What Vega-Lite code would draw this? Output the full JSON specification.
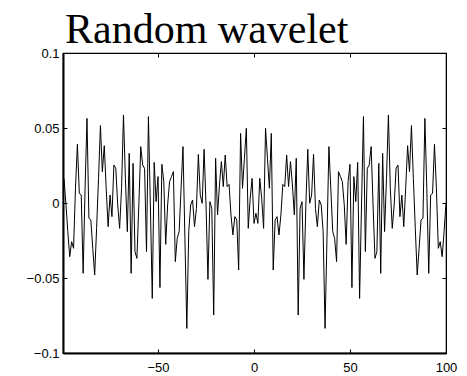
{
  "$schema": "https://vega.github.io/schema/vega-lite/v6.json",
  "width": 383,
  "height": 300,
  "autosize": "none",
  "padding": {"left": 63, "top": 53, "right": 21, "bottom": 23},
  "background": "white",
  "title": {"text": "Random wavelet", "font": "Liberation Serif", "fontSize": 42, "fontWeight": "normal", "color": "black", "anchor": "start", "frame": "group", "baseline": "bottom", "offset": 6, "dx": 2, "dy": 53},
  "data": {"values": [
    {"x": -99, "y": 0.0164}, {"x": -98, "y": -0.0002}, {"x": -97, "y": -0.0191}, {"x": -96, "y": -0.0358}, {"x": -95, "y": -0.0258},
    {"x": -94, "y": -0.0302}, {"x": -93, "y": 0.0098}, {"x": -92, "y": 0.0391}, {"x": -91, "y": 0.0064}, {"x": -90, "y": 0.0053},
    {"x": -89, "y": -0.0469}, {"x": -88, "y": 0.0098}, {"x": -87, "y": 0.0564}, {"x": -86, "y": -0.0102}, {"x": -85, "y": -0.0113},
    {"x": -84, "y": -0.0302}, {"x": -83, "y": -0.0480}, {"x": -82, "y": -0.0169}, {"x": -81, "y": 0.0164}, {"x": -80, "y": 0.0516},
    {"x": -79, "y": 0.0209}, {"x": -78, "y": 0.0382}, {"x": -77, "y": 0.0098}, {"x": -76, "y": -0.0158}, {"x": -75, "y": 0.0053},
    {"x": -74, "y": -0.0091}, {"x": -73, "y": 0.0253}, {"x": -72, "y": 0.0231}, {"x": -71, "y": -0.0013}, {"x": -70, "y": -0.0169},
    {"x": -69, "y": 0.0098}, {"x": -68, "y": 0.0587}, {"x": -67, "y": 0.0164}, {"x": -66, "y": -0.0191}, {"x": -65, "y": 0.0331},
    {"x": -64, "y": -0.0469}, {"x": -63, "y": 0.0264}, {"x": -62, "y": -0.0324}, {"x": -61, "y": -0.0369}, {"x": -60, "y": -0.0013},
    {"x": -59, "y": 0.0376}, {"x": -58, "y": 0.0253}, {"x": -57, "y": 0.0231}, {"x": -56, "y": -0.0324}, {"x": -55, "y": 0.0576},
    {"x": -54, "y": -0.0013}, {"x": -53, "y": -0.0636}, {"x": -52, "y": 0.0271}, {"x": -51, "y": 0.0009}, {"x": -50, "y": 0.0176},
    {"x": -49, "y": -0.0564}, {"x": -48, "y": 0.0258}, {"x": -47, "y": 0.0142}, {"x": -46, "y": -0.0276}, {"x": -45, "y": -0.0013},
    {"x": -44, "y": 0.0142}, {"x": -43, "y": 0.0176}, {"x": -42, "y": 0.0209}, {"x": -41, "y": -0.0391}, {"x": -40, "y": -0.0236},
    {"x": -39, "y": -0.0191}, {"x": -38, "y": 0.0098}, {"x": -37, "y": 0.0376}, {"x": -36, "y": -0.0236}, {"x": -35, "y": -0.0836},
    {"x": -34, "y": -0.0191}, {"x": -33, "y": -0.0013}, {"x": -32, "y": 0.0020}, {"x": -31, "y": -0.0158}, {"x": -30, "y": -0.0036},
    {"x": -29, "y": 0.0324}, {"x": -28, "y": 0.0053}, {"x": -27, "y": -0.0002}, {"x": -26, "y": 0.0358}, {"x": -25, "y": -0.0013},
    {"x": -24, "y": -0.0509}, {"x": -23, "y": 0.0009}, {"x": -22, "y": -0.0036}, {"x": -21, "y": -0.0747}, {"x": -20, "y": 0.0298},
    {"x": -19, "y": -0.0080}, {"x": -18, "y": 0.0120}, {"x": -17, "y": 0.0276}, {"x": -16, "y": 0.0109}, {"x": -15, "y": 0.0320},
    {"x": -14, "y": 0.0109}, {"x": -13, "y": 0.0124}, {"x": -12, "y": -0.0080}, {"x": -11, "y": -0.0213}, {"x": -10, "y": -0.0091},
    {"x": -9, "y": -0.0113}, {"x": -8, "y": -0.0447}, {"x": -7, "y": 0.0464}, {"x": -6, "y": 0.0098}, {"x": -5, "y": 0.0298},
    {"x": -4, "y": 0.0498}, {"x": -3, "y": -0.0169}, {"x": -2, "y": 0.0031}, {"x": -1, "y": 0.0164}, {"x": 0, "y": -0.0136},
    {"x": 1, "y": -0.0069}, {"x": 2, "y": -0.0136}, {"x": 3, "y": 0.0164}, {"x": 4, "y": 0.0031}, {"x": 5, "y": -0.0169},
    {"x": 6, "y": 0.0498}, {"x": 7, "y": 0.0298}, {"x": 8, "y": 0.0098}, {"x": 9, "y": 0.0464}, {"x": 10, "y": -0.0447},
    {"x": 11, "y": -0.0113}, {"x": 12, "y": -0.0091}, {"x": 13, "y": -0.0213}, {"x": 14, "y": -0.0080}, {"x": 15, "y": 0.0124},
    {"x": 16, "y": 0.0109}, {"x": 17, "y": 0.0320}, {"x": 18, "y": 0.0109}, {"x": 19, "y": 0.0276}, {"x": 20, "y": 0.0120},
    {"x": 21, "y": -0.0080}, {"x": 22, "y": 0.0298}, {"x": 23, "y": -0.0747}, {"x": 24, "y": -0.0036}, {"x": 25, "y": 0.0009},
    {"x": 26, "y": -0.0509}, {"x": 27, "y": -0.0013}, {"x": 28, "y": 0.0358}, {"x": 29, "y": -0.0002}, {"x": 30, "y": 0.0053},
    {"x": 31, "y": 0.0324}, {"x": 32, "y": -0.0036}, {"x": 33, "y": -0.0158}, {"x": 34, "y": 0.0020}, {"x": 35, "y": -0.0013},
    {"x": 36, "y": -0.0191}, {"x": 37, "y": -0.0836}, {"x": 38, "y": -0.0236}, {"x": 39, "y": 0.0376}, {"x": 40, "y": 0.0098},
    {"x": 41, "y": -0.0191}, {"x": 42, "y": -0.0236}, {"x": 43, "y": -0.0391}, {"x": 44, "y": 0.0209}, {"x": 45, "y": 0.0176},
    {"x": 46, "y": 0.0142}, {"x": 47, "y": -0.0013}, {"x": 48, "y": -0.0276}, {"x": 49, "y": 0.0142}, {"x": 50, "y": 0.0258},
    {"x": 51, "y": -0.0564}, {"x": 52, "y": 0.0176}, {"x": 53, "y": 0.0009}, {"x": 54, "y": 0.0271}, {"x": 55, "y": -0.0636},
    {"x": 56, "y": -0.0013}, {"x": 57, "y": 0.0576}, {"x": 58, "y": -0.0324}, {"x": 59, "y": 0.0231}, {"x": 60, "y": 0.0253},
    {"x": 61, "y": 0.0376}, {"x": 62, "y": -0.0013}, {"x": 63, "y": -0.0369}, {"x": 64, "y": -0.0324}, {"x": 65, "y": 0.0264},
    {"x": 66, "y": -0.0469}, {"x": 67, "y": 0.0331}, {"x": 68, "y": -0.0191}, {"x": 69, "y": 0.0164}, {"x": 70, "y": 0.0587},
    {"x": 71, "y": 0.0098}, {"x": 72, "y": -0.0169}, {"x": 73, "y": -0.0013}, {"x": 74, "y": 0.0231}, {"x": 75, "y": 0.0253},
    {"x": 76, "y": -0.0091}, {"x": 77, "y": 0.0053}, {"x": 78, "y": -0.0158}, {"x": 79, "y": 0.0098}, {"x": 80, "y": 0.0382},
    {"x": 81, "y": 0.0209}, {"x": 82, "y": 0.0516}, {"x": 83, "y": 0.0164}, {"x": 84, "y": -0.0169}, {"x": 85, "y": -0.0480},
    {"x": 86, "y": -0.0302}, {"x": 87, "y": -0.0113}, {"x": 88, "y": -0.0102}, {"x": 89, "y": 0.0564}, {"x": 90, "y": 0.0098},
    {"x": 91, "y": -0.0469}, {"x": 92, "y": 0.0053}, {"x": 93, "y": 0.0064}, {"x": 94, "y": 0.0391}, {"x": 95, "y": 0.0098},
    {"x": 96, "y": -0.0302}, {"x": 97, "y": -0.0258}, {"x": 98, "y": -0.0358}, {"x": 99, "y": -0.0191}, {"x": 100, "y": -0.0002}
  ]},
  "layer": [
    {
      "mark": {"type": "line", "color": "black", "strokeWidth": 1},
      "encoding": {
        "x": {"field": "x", "type": "quantitative", "scale": {"domain": [-99.5, 100], "nice": false, "zero": false},
              "axis": {"orient": "bottom", "title": null, "values": [-50, 0, 50, 100], "labelPadding": 12, "domainWidth": 2}},
        "y": {"field": "y", "type": "quantitative", "scale": {"domain": [-0.1, 0.1], "nice": false, "zero": false},
              "axis": {"orient": "left", "title": null, "values": [-0.1, -0.05, 0, 0.05, 0.1], "format": "~g", "labelPadding": 8, "domainWidth": 2}}
      }
    },
    {
      "mark": {"type": "line", "opacity": 0},
      "encoding": {
        "x": {"field": "x", "type": "quantitative", "axis": {"orient": "top", "title": null, "labels": false, "values": [-50, 0, 50, 100]}},
        "y": {"field": "y", "type": "quantitative", "axis": {"orient": "right", "title": null, "labels": false, "values": [-0.1, -0.05, 0, 0.05, 0.1]}}
      }
    }
  ],
  "resolve": {"axis": {"x": "independent", "y": "independent"}},
  "config": {
    "view": {"stroke": "black", "strokeWidth": 1.2},
    "axis": {"grid": false, "domainColor": "black", "tickColor": "black", "tickSize": -4, "tickWidth": 1,
             "labelFont": "Liberation Sans", "labelFontSize": 13, "labelColor": "black", "labelFlush": false, "labelOverlap": false}
  }
}
